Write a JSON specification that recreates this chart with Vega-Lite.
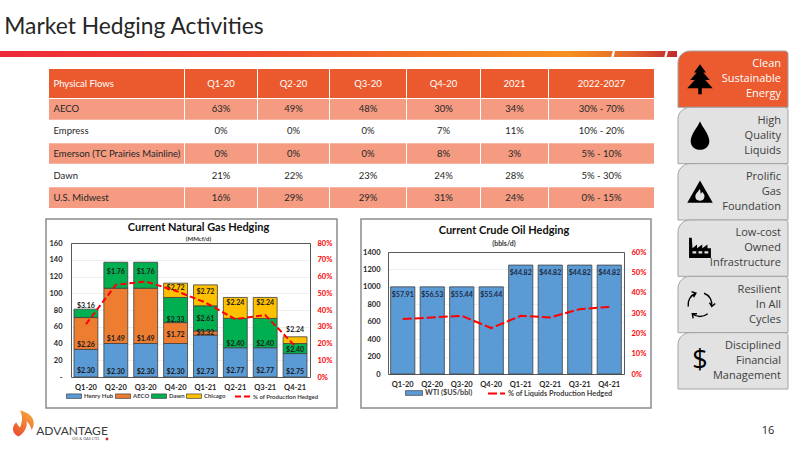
{
  "$schema": "https://vega.github.io/schema/vega-lite/v6.json",
  "padding": 0,
  "spacing": 0,
  "config": {
    "view": {"stroke": null},
    "font": "Lato",
    "axis": {"labelFont": "Lato", "labelFontWeight": "bold", "tickSize": 0, "title": null, "gridColor": "#EBEBEB", "gridWidth": 0.8},
    "legend": {"labelFont": "Lato", "labelFontWeight": "bold", "labelColor": "#404040", "title": null}
  },
  "datasets": {
    "flows": [
      {"flow": "AECO", "period": "Q1-20", "share": "63%"},
      {"flow": "AECO", "period": "Q2-20", "share": "49%"},
      {"flow": "AECO", "period": "Q3-20", "share": "48%"},
      {"flow": "AECO", "period": "Q4-20", "share": "30%"},
      {"flow": "AECO", "period": "2021", "share": "34%"},
      {"flow": "AECO", "period": "2022-2027", "share": "30% - 70%"},
      {"flow": "Empress", "period": "Q1-20", "share": "0%"},
      {"flow": "Empress", "period": "Q2-20", "share": "0%"},
      {"flow": "Empress", "period": "Q3-20", "share": "0%"},
      {"flow": "Empress", "period": "Q4-20", "share": "7%"},
      {"flow": "Empress", "period": "2021", "share": "11%"},
      {"flow": "Empress", "period": "2022-2027", "share": "10% - 20%"},
      {"flow": "Emerson (TC Prairies Mainline)", "period": "Q1-20", "share": "0%"},
      {"flow": "Emerson (TC Prairies Mainline)", "period": "Q2-20", "share": "0%"},
      {"flow": "Emerson (TC Prairies Mainline)", "period": "Q3-20", "share": "0%"},
      {"flow": "Emerson (TC Prairies Mainline)", "period": "Q4-20", "share": "8%"},
      {"flow": "Emerson (TC Prairies Mainline)", "period": "2021", "share": "3%"},
      {"flow": "Emerson (TC Prairies Mainline)", "period": "2022-2027", "share": "5% - 10%"},
      {"flow": "Dawn", "period": "Q1-20", "share": "21%"},
      {"flow": "Dawn", "period": "Q2-20", "share": "22%"},
      {"flow": "Dawn", "period": "Q3-20", "share": "23%"},
      {"flow": "Dawn", "period": "Q4-20", "share": "24%"},
      {"flow": "Dawn", "period": "2021", "share": "28%"},
      {"flow": "Dawn", "period": "2022-2027", "share": "5% - 30%"},
      {"flow": "U.S. Midwest", "period": "Q1-20", "share": "16%"},
      {"flow": "U.S. Midwest", "period": "Q2-20", "share": "29%"},
      {"flow": "U.S. Midwest", "period": "Q3-20", "share": "29%"},
      {"flow": "U.S. Midwest", "period": "Q4-20", "share": "31%"},
      {"flow": "U.S. Midwest", "period": "2021", "share": "24%"},
      {"flow": "U.S. Midwest", "period": "2022-2027", "share": "0% - 15%"}
    ],
    "gas": [
      {"quarter": "Q1-20", "hub": "Henry Hub", "rank": 1, "volume": 33, "price": "$2.30", "label_at": 7},
      {"quarter": "Q1-20", "hub": "AECO", "rank": 2, "volume": 38, "price": "$2.26", "label_at": 38},
      {"quarter": "Q1-20", "hub": "Dawn", "rank": 3, "volume": 10, "price": "$3.16", "label_at": 85},
      {"quarter": "Q2-20", "hub": "Henry Hub", "rank": 1, "volume": 40, "price": "$2.30", "label_at": 6},
      {"quarter": "Q2-20", "hub": "AECO", "rank": 2, "volume": 66, "price": "$1.49", "label_at": 45},
      {"quarter": "Q2-20", "hub": "Dawn", "rank": 3, "volume": 31, "price": "$1.76", "label_at": 125},
      {"quarter": "Q3-20", "hub": "Henry Hub", "rank": 1, "volume": 40, "price": "$2.30", "label_at": 6},
      {"quarter": "Q3-20", "hub": "AECO", "rank": 2, "volume": 66, "price": "$1.49", "label_at": 45},
      {"quarter": "Q3-20", "hub": "Dawn", "rank": 3, "volume": 31, "price": "$1.76", "label_at": 125},
      {"quarter": "Q4-20", "hub": "Henry Hub", "rank": 1, "volume": 40, "price": "$2.30", "label_at": 6},
      {"quarter": "Q4-20", "hub": "AECO", "rank": 2, "volume": 25, "price": "$1.72", "label_at": 50},
      {"quarter": "Q4-20", "hub": "Dawn", "rank": 3, "volume": 30, "price": "$2.33", "label_at": 68},
      {"quarter": "Q4-20", "hub": "Chicago", "rank": 4, "volume": 17, "price": "$2.72", "label_at": 106},
      {"quarter": "Q1-21", "hub": "Henry Hub", "rank": 1, "volume": 50, "price": "$2.73", "label_at": 6},
      {"quarter": "Q1-21", "hub": "AECO", "rank": 2, "volume": 5, "price": "$3.32", "label_at": 52},
      {"quarter": "Q1-21", "hub": "Dawn", "rank": 3, "volume": 30, "price": "$2.61", "label_at": 69},
      {"quarter": "Q1-21", "hub": "Chicago", "rank": 4, "volume": 25, "price": "$2.72", "label_at": 101},
      {"quarter": "Q2-21", "hub": "Henry Hub", "rank": 1, "volume": 35, "price": "$2.77", "label_at": 7},
      {"quarter": "Q2-21", "hub": "Dawn", "rank": 3, "volume": 35, "price": "$2.40", "label_at": 40},
      {"quarter": "Q2-21", "hub": "Chicago", "rank": 4, "volume": 25, "price": "$2.24", "label_at": 88},
      {"quarter": "Q3-21", "hub": "Henry Hub", "rank": 1, "volume": 35, "price": "$2.77", "label_at": 7},
      {"quarter": "Q3-21", "hub": "Dawn", "rank": 3, "volume": 35, "price": "$2.40", "label_at": 40},
      {"quarter": "Q3-21", "hub": "Chicago", "rank": 4, "volume": 25, "price": "$2.24", "label_at": 88},
      {"quarter": "Q4-21", "hub": "Henry Hub", "rank": 1, "volume": 28, "price": "$2.75", "label_at": 6},
      {"quarter": "Q4-21", "hub": "Dawn", "rank": 3, "volume": 12, "price": "$2.40", "label_at": 32},
      {"quarter": "Q4-21", "hub": "Chicago", "rank": 4, "volume": 8, "price": "$2.24", "label_at": 56}
    ],
    "gas_hedged": [
      {"quarter": "Q1-20", "pct": 31.5},
      {"quarter": "Q2-20", "pct": 55},
      {"quarter": "Q3-20", "pct": 57},
      {"quarter": "Q4-20", "pct": 51.5},
      {"quarter": "Q1-21", "pct": 44.5},
      {"quarter": "Q2-21", "pct": 34.5},
      {"quarter": "Q3-21", "pct": 37},
      {"quarter": "Q4-21", "pct": 18.5}
    ],
    "oil": [
      {"quarter": "Q1-20", "volume": 1000, "price": "$57.91", "hub": "WTI ($US/bbl)"},
      {"quarter": "Q2-20", "volume": 1000, "price": "$56.53", "hub": "WTI ($US/bbl)"},
      {"quarter": "Q3-20", "volume": 1000, "price": "$55.44", "hub": "WTI ($US/bbl)"},
      {"quarter": "Q4-20", "volume": 1000, "price": "$55.44", "hub": "WTI ($US/bbl)"},
      {"quarter": "Q1-21", "volume": 1250, "price": "$44.82", "hub": "WTI ($US/bbl)"},
      {"quarter": "Q2-21", "volume": 1250, "price": "$44.82", "hub": "WTI ($US/bbl)"},
      {"quarter": "Q3-21", "volume": 1250, "price": "$44.82", "hub": "WTI ($US/bbl)"},
      {"quarter": "Q4-21", "volume": 1250, "price": "$44.82", "hub": "WTI ($US/bbl)"}
    ],
    "oil_hedged": [
      {"quarter": "Q1-20", "pct": 27},
      {"quarter": "Q2-20", "pct": 27.8},
      {"quarter": "Q3-20", "pct": 28.6},
      {"quarter": "Q4-20", "pct": 22.6},
      {"quarter": "Q1-21", "pct": 28.6},
      {"quarter": "Q2-21", "pct": 27.8},
      {"quarter": "Q3-21", "pct": 31.9},
      {"quarter": "Q4-21", "pct": 33}
    ],
    "tabs": [
      {"tab": "Clean\nSustainable\nEnergy"},
      {"tab": "High\nQuality\nLiquids"},
      {"tab": "Prolific\nGas\nFoundation"},
      {"tab": "Low-cost\nOwned\nInfrastructure"},
      {"tab": "Resilient\nIn All\nCycles"},
      {"tab": "Disciplined\nFinancial\nManagement"}
    ]
  },
  "vconcat": [
    {
      "width": 268,
      "height": 50,
      "data": {"values": [{"heading": "Market Hedging Activities"}]},
      "mark": {"type": "text", "font": "Lato", "fontSize": 22.8, "color": "#262626", "yOffset": 2},
      "encoding": {"text": {"field": "heading"}}
    },
    {
      "spacing": 0,
      "hconcat": [
        {
          "spacing": 11,
          "vconcat": [
            {
              "width": 677,
              "height": 6,
              "layer": [
                {
                  "data": {"values": [{"band": "rule"}]},
                  "mark": {
                    "type": "rect",
                    "color": {
                      "gradient": "linear",
                      "stops": [
                        {"offset": 0, "color": "#ED2939"},
                        {"offset": 0.4, "color": "#F04E2C"},
                        {"offset": 0.84, "color": "#F6901F"},
                        {"offset": 0.93, "color": "#E4672B"},
                        {"offset": 1, "color": "#C1272D"}
                      ]
                    }
                  }
                },
                {
                  "data": {"values": [{"gap": 613}, {"gap": 666}]},
                  "mark": {"type": "point", "filled": true, "color": "#FFFFFF", "opacity": 1},
                  "encoding": {
                    "x": {"field": "gap", "type": "quantitative", "axis": null, "scale": {"domain": [0, 677]}},
                    "shape": {"value": "M-0.5,1 L0.1,1 L0.6,-1 L0,-1 Z"},
                    "size": {"value": 64}
                  }
                }
              ]
            },
            {
              "spacing": 0,
              "hconcat": [
                {"width": 45, "height": 1, "data": {"values": []}, "mark": "rect"},
                {
                  "spacing": 10,
                  "vconcat": [
                    {
                      "spacing": 1,
                      "hconcat": [
                        {"width": 2, "height": 1, "data": {"values": []}, "mark": "rect"},
                        {
                          "spacing": 1,
                          "vconcat": [
                            {
                              "spacing": 1,
                              "hconcat": [
                                {"width": 135, "height": 29, "view": {"fill": "#EB5A2F"}, "data": {"values": [{"label": "Physical Flows"}]}, "mark": {"type": "text", "font": "Lato", "fontSize": 9.5, "color": "#FFFFFF", "align": "left", "dx": -63}, "encoding": {"text": {"field": "label"}}},
                                {"width": 72, "height": 29, "view": {"fill": "#EB5A2F"}, "data": {"values": [{"label": "Q1-20"}]}, "mark": {"type": "text", "font": "Lato", "fontSize": 9.5, "color": "#FFFFFF"}, "encoding": {"text": {"field": "label"}}},
                                {"width": 71, "height": 29, "view": {"fill": "#EB5A2F"}, "data": {"values": [{"label": "Q2-20"}]}, "mark": {"type": "text", "font": "Lato", "fontSize": 9.5, "color": "#FFFFFF"}, "encoding": {"text": {"field": "label"}}},
                                {"width": 76, "height": 29, "view": {"fill": "#EB5A2F"}, "data": {"values": [{"label": "Q3-20"}]}, "mark": {"type": "text", "font": "Lato", "fontSize": 9.5, "color": "#FFFFFF"}, "encoding": {"text": {"field": "label"}}},
                                {"width": 73, "height": 29, "view": {"fill": "#EB5A2F"}, "data": {"values": [{"label": "Q4-20"}]}, "mark": {"type": "text", "font": "Lato", "fontSize": 9.5, "color": "#FFFFFF"}, "encoding": {"text": {"field": "label"}}},
                                {"width": 67, "height": 29, "view": {"fill": "#EB5A2F"}, "data": {"values": [{"label": "2021"}]}, "mark": {"type": "text", "font": "Lato", "fontSize": 9.5, "color": "#FFFFFF"}, "encoding": {"text": {"field": "label"}}},
                                {"width": 105, "height": 29, "view": {"fill": "#EB5A2F"}, "data": {"values": [{"label": "2022-2027"}]}, "mark": {"type": "text", "font": "Lato", "fontSize": 9.5, "color": "#FFFFFF"}, "encoding": {"text": {"field": "label"}}}
                              ]
                            },
                            {
                              "spacing": 1,
                              "data": {"name": "flows"},
                              "hconcat": [
                                {
                                  "width": 135, "height": 109,
                                  "transform": [{"filter": "datum.period == 'Q1-20'"}],
                                  "encoding": {"y": {"field": "flow", "type": "nominal", "axis": null, "sort": null, "scale": {"paddingInner": 0.06, "paddingOuter": 0}}},
                                  "layer": [
                                    {"mark": "rect", "encoding": {"color": {"condition": {"test": "datum.flow == 'AECO' || datum.flow == 'U.S. Midwest' || indexof(datum.flow, 'Emerson') == 0", "value": "#F49B81"}, "value": "#FFFFFF"}}},
                                    {"mark": {"type": "text", "font": "Lato", "fontSize": 9.5, "color": "#262626", "align": "left", "dx": -63}, "encoding": {"text": {"field": "flow"}}}
                                  ]
                                },
                                {
                                  "width": 72, "height": 109,
                                  "transform": [{"filter": "datum.period == 'Q1-20'"}],
                                  "encoding": {"y": {"field": "flow", "type": "nominal", "axis": null, "sort": null, "scale": {"paddingInner": 0.06, "paddingOuter": 0}}},
                                  "layer": [
                                    {"mark": "rect", "encoding": {"color": {"condition": {"test": "datum.flow == 'AECO' || datum.flow == 'U.S. Midwest' || indexof(datum.flow, 'Emerson') == 0", "value": "#F49B81"}, "value": "#FFFFFF"}}},
                                    {"mark": {"type": "text", "font": "Lato", "fontSize": 9.5, "color": "#262626"}, "encoding": {"text": {"field": "share"}}}
                                  ]
                                },
                                {
                                  "width": 71, "height": 109,
                                  "transform": [{"filter": "datum.period == 'Q2-20'"}],
                                  "encoding": {"y": {"field": "flow", "type": "nominal", "axis": null, "sort": null, "scale": {"paddingInner": 0.06, "paddingOuter": 0}}},
                                  "layer": [
                                    {"mark": "rect", "encoding": {"color": {"condition": {"test": "datum.flow == 'AECO' || datum.flow == 'U.S. Midwest' || indexof(datum.flow, 'Emerson') == 0", "value": "#F49B81"}, "value": "#FFFFFF"}}},
                                    {"mark": {"type": "text", "font": "Lato", "fontSize": 9.5, "color": "#262626"}, "encoding": {"text": {"field": "share"}}}
                                  ]
                                },
                                {
                                  "width": 76, "height": 109,
                                  "transform": [{"filter": "datum.period == 'Q3-20'"}],
                                  "encoding": {"y": {"field": "flow", "type": "nominal", "axis": null, "sort": null, "scale": {"paddingInner": 0.06, "paddingOuter": 0}}},
                                  "layer": [
                                    {"mark": "rect", "encoding": {"color": {"condition": {"test": "datum.flow == 'AECO' || datum.flow == 'U.S. Midwest' || indexof(datum.flow, 'Emerson') == 0", "value": "#F49B81"}, "value": "#FFFFFF"}}},
                                    {"mark": {"type": "text", "font": "Lato", "fontSize": 9.5, "color": "#262626"}, "encoding": {"text": {"field": "share"}}}
                                  ]
                                },
                                {
                                  "width": 73, "height": 109,
                                  "transform": [{"filter": "datum.period == 'Q4-20'"}],
                                  "encoding": {"y": {"field": "flow", "type": "nominal", "axis": null, "sort": null, "scale": {"paddingInner": 0.06, "paddingOuter": 0}}},
                                  "layer": [
                                    {"mark": "rect", "encoding": {"color": {"condition": {"test": "datum.flow == 'AECO' || datum.flow == 'U.S. Midwest' || indexof(datum.flow, 'Emerson') == 0", "value": "#F49B81"}, "value": "#FFFFFF"}}},
                                    {"mark": {"type": "text", "font": "Lato", "fontSize": 9.5, "color": "#262626"}, "encoding": {"text": {"field": "share"}}}
                                  ]
                                },
                                {
                                  "width": 67, "height": 109,
                                  "transform": [{"filter": "datum.period == '2021'"}],
                                  "encoding": {"y": {"field": "flow", "type": "nominal", "axis": null, "sort": null, "scale": {"paddingInner": 0.06, "paddingOuter": 0}}},
                                  "layer": [
                                    {"mark": "rect", "encoding": {"color": {"condition": {"test": "datum.flow == 'AECO' || datum.flow == 'U.S. Midwest' || indexof(datum.flow, 'Emerson') == 0", "value": "#F49B81"}, "value": "#FFFFFF"}}},
                                    {"mark": {"type": "text", "font": "Lato", "fontSize": 9.5, "color": "#262626"}, "encoding": {"text": {"field": "share"}}}
                                  ]
                                },
                                {
                                  "width": 105, "height": 109,
                                  "transform": [{"filter": "datum.period == '2022-2027'"}],
                                  "encoding": {"y": {"field": "flow", "type": "nominal", "axis": null, "sort": null, "scale": {"paddingInner": 0.06, "paddingOuter": 0}}},
                                  "layer": [
                                    {"mark": "rect", "encoding": {"color": {"condition": {"test": "datum.flow == 'AECO' || datum.flow == 'U.S. Midwest' || indexof(datum.flow, 'Emerson') == 0", "value": "#F49B81"}, "value": "#FFFFFF"}}},
                                    {"mark": {"type": "text", "font": "Lato", "fontSize": 9.5, "color": "#262626"}, "encoding": {"text": {"field": "share"}}}
                                  ]
                                }
                              ]
                            }
                          ]
                        }
                      ]
                    },
                    {
                      "spacing": 22,
                      "resolve": {"scale": {"color": "independent", "strokeDash": "independent"}},
                      "hconcat": [
                        {
                          "width": 291,
                          "height": 189,
                          "view": {"stroke": "#8C8C8C", "strokeWidth": 1.5},
                          "title": {"text": "Current Natural Gas Hedging", "subtitle": "(MMcf/d)", "font": "Lato", "fontWeight": "bold", "fontSize": 11, "color": "#111111", "subtitleFont": "Lato", "subtitleFontWeight": "bold", "subtitleFontSize": 6, "subtitleColor": "#333333", "subtitlePadding": 3, "anchor": "middle", "offset": -23, "dx": 7},
                          "resolve": {"scale": {"y": "independent"}, "axis": {"x": "independent", "y": "independent"}},
                          "layer": [
                            {
                              "data": {"name": "gas"},
                              "mark": {"type": "bar", "stroke": "#404040", "strokeWidth": 0.8},
                              "encoding": {
                                "x": {"field": "quarter", "type": "nominal", "sort": null, "scale": {"type": "band", "range": [25, 264], "paddingInner": 0.2, "paddingOuter": 0.1}, "axis": {"orient": "bottom", "offset": -31, "labelAngle": 0, "labelFontSize": 7.5, "labelColor": "#262626", "labelPadding": 6, "domainColor": "#595959", "domainWidth": 1}},
                                "y": {"field": "volume", "type": "quantitative", "stack": "zero", "scale": {"domain": [0, 160], "range": [158, 24], "nice": false}, "axis": {"orient": "left", "offset": -25, "values": [0, 20, 40, 60, 80, 100, 120, 140, 160], "labelExpr": "datum.value === 0 ? '-' : datum.label", "labelFontSize": 7.5, "labelColor": "#262626", "labelPadding": 9, "grid": true, "domainColor": "#595959", "domainWidth": 1}},
                                "color": {"field": "hub", "type": "nominal", "scale": {"domain": ["Henry Hub", "AECO", "Dawn", "Chicago"], "range": ["#5B9BD5", "#ED7D31", "#00B050", "#FFC000"]}, "legend": {"orient": "none", "legendX": 20, "legendY": 169, "direction": "horizontal", "columns": 4, "columnPadding": 0, "labelFontSize": 6, "labelOffset": 2, "symbolSize": 225, "symbolStrokeColor": "#404040", "symbolStrokeWidth": 0.7, "symbolType": "M-1,-0.3 L1,-0.3 L1,0.3 L-1,0.3 Z"}},
                                "order": {"field": "rank", "type": "quantitative"}
                              }
                            },
                            {
                              "data": {"name": "gas"},
                              "mark": {"type": "text", "font": "Lato", "fontWeight": "bold", "fontSize": 7, "color": "#1A1A1A"},
                              "encoding": {
                                "x": {"field": "quarter", "type": "nominal", "sort": null, "axis": null, "scale": {"type": "band", "range": [25, 264], "paddingInner": 0.2, "paddingOuter": 0.1}},
                                "y": {"field": "label_at", "type": "quantitative", "axis": null, "scale": {"domain": [0, 160], "range": [158, 24], "nice": false}},
                                "text": {"field": "price"}
                              }
                            },
                            {
                              "data": {"name": "gas_hedged"},
                              "mark": {"type": "line", "color": "#FF0000", "strokeWidth": 2},
                              "encoding": {
                                "x": {"field": "quarter", "type": "nominal", "sort": null, "scale": {"type": "band", "range": [25, 264], "paddingInner": 0.2, "paddingOuter": 0.1}, "axis": {"orient": "top", "offset": -24, "labels": false, "domainColor": "#595959", "domainWidth": 1}},
                                "y": {"field": "pct", "type": "quantitative", "scale": {"domain": [0, 80], "range": [158, 24], "nice": false}, "axis": {"orient": "right", "offset": -27, "values": [0, 10, 20, 30, 40, 50, 60, 70, 80], "labelExpr": "datum.value + '%'", "labelFontSize": 7.5, "labelColor": "#FF0000", "labelPadding": 7, "domainColor": "#595959", "domainWidth": 1}},
                                "strokeDash": {"datum": "% of Production Hedged", "scale": {"domain": ["% of Production Hedged"], "range": [[6, 3]]}, "legend": {"orient": "none", "legendX": 188, "legendY": 169, "labelFontSize": 6, "labelOffset": 2, "symbolSize": 225, "symbolType": "stroke", "symbolStrokeColor": "#FF0000", "symbolStrokeWidth": 2}}
                              }
                            }
                          ]
                        },
                        {
                          "width": 290,
                          "height": 189,
                          "view": {"stroke": "#8C8C8C", "strokeWidth": 1.5},
                          "title": {"text": "Current Crude Oil Hedging", "subtitle": "(bbls/d)", "font": "Lato", "fontWeight": "bold", "fontSize": 11, "color": "#111111", "subtitleFont": "Lato", "subtitleFontWeight": "bold", "subtitleFontSize": 7, "subtitleColor": "#333333", "subtitlePadding": 4, "anchor": "middle", "offset": -28, "dx": -2},
                          "resolve": {"scale": {"y": "independent"}, "axis": {"x": "independent", "y": "independent"}},
                          "layer": [
                            {
                              "data": {"name": "oil"},
                              "mark": {"type": "bar", "stroke": "#404040", "strokeWidth": 0.8},
                              "encoding": {
                                "x": {"field": "quarter", "type": "nominal", "sort": null, "scale": {"type": "band", "range": [27, 263], "paddingInner": 0.18, "paddingOuter": 0.09}, "axis": {"orient": "bottom", "offset": -34, "labelAngle": 0, "labelFontSize": 7.5, "labelColor": "#262626", "labelPadding": 6, "domainColor": "#595959", "domainWidth": 1}},
                                "y": {"field": "volume", "type": "quantitative", "scale": {"domain": [0, 1400], "range": [155, 33], "nice": false}, "axis": {"orient": "left", "offset": -27, "values": [0, 200, 400, 600, 800, 1000, 1200, 1400], "format": "d", "labelFontSize": 7.5, "labelColor": "#262626", "labelPadding": 8, "grid": true, "domainColor": "#595959", "domainWidth": 1}},
                                "color": {"field": "hub", "type": "nominal", "scale": {"domain": ["WTI ($US/bbl)"], "range": ["#5B9BD5"]}, "legend": {"orient": "none", "legendX": 44, "legendY": 165, "labelFontSize": 7.3, "labelOffset": 2, "symbolSize": 289, "symbolStrokeColor": "#404040", "symbolStrokeWidth": 0.7, "symbolType": "M-1,-0.28 L1,-0.28 L1,0.28 L-1,0.28 Z"}}
                              }
                            },
                            {
                              "data": {"name": "oil"},
                              "mark": {"type": "text", "font": "Lato", "fontWeight": "bold", "fontSize": 7, "color": "#1F2A44", "dy": 8},
                              "encoding": {
                                "x": {"field": "quarter", "type": "nominal", "sort": null, "axis": null, "scale": {"type": "band", "range": [27, 263], "paddingInner": 0.18, "paddingOuter": 0.09}},
                                "y": {"field": "volume", "type": "quantitative", "axis": null, "scale": {"domain": [0, 1400], "range": [155, 33], "nice": false}},
                                "text": {"field": "price"}
                              }
                            },
                            {
                              "data": {"name": "oil_hedged"},
                              "mark": {"type": "line", "color": "#FF0000", "strokeWidth": 2},
                              "encoding": {
                                "x": {"field": "quarter", "type": "nominal", "sort": null, "scale": {"type": "band", "range": [27, 263], "paddingInner": 0.18, "paddingOuter": 0.09}, "axis": {"orient": "top", "offset": -33, "labels": false, "domainColor": "#595959", "domainWidth": 1}},
                                "y": {"field": "pct", "type": "quantitative", "scale": {"domain": [0, 60], "range": [155, 33], "nice": false}, "axis": {"orient": "right", "offset": -27, "values": [0, 10, 20, 30, 40, 50, 60], "labelExpr": "datum.value + '%'", "labelFontSize": 7.5, "labelColor": "#FF0000", "labelPadding": 7, "domainColor": "#595959", "domainWidth": 1}},
                                "strokeDash": {"datum": "% of Liquids Production Hedged", "scale": {"domain": ["% of Liquids Production Hedged"], "range": [[9, 3]]}, "legend": {"orient": "none", "legendX": 126, "legendY": 165, "labelFontSize": 7.3, "labelOffset": 2, "symbolSize": 289, "symbolType": "stroke", "symbolStrokeColor": "#FF0000", "symbolStrokeWidth": 2}}
                              }
                            }
                          ]
                        }
                      ]
                    }
                  ]
                }
              ]
            }
          ]
        },
        {
          "width": 110,
          "height": 338,
          "data": {"name": "tabs"},
          "encoding": {"y": {"field": "tab", "type": "nominal", "axis": null, "sort": null, "scale": {"paddingInner": 0, "paddingOuter": 0}}},
          "layer": [
            {
              "mark": {"type": "rect", "stroke": "#A3A3A3", "strokeWidth": 1, "cornerRadiusTopLeft": 12, "cornerRadiusTopRight": 3},
              "encoding": {"color": {"condition": {"test": "indexof(datum.tab, 'Clean') === 0", "value": "#EC5A2F"}, "value": "#E2E2E2"}}
            },
            {
              "mark": {"type": "text", "font": "Open Sans", "fontSize": 11, "align": "right", "dx": 48, "dy": -15, "lineBreak": "\n", "lineHeight": 15},
              "encoding": {
                "text": {"field": "tab"},
                "color": {"condition": {"test": "indexof(datum.tab, 'Clean') === 0", "value": "#FFFFFF"}, "value": "#404040"}
              }
            },
            {
              "transform": [{"filter": "!test(/^(Resilient|Disciplined)/, datum.tab)"}],
              "mark": {"type": "point", "filled": true, "color": "#000000", "opacity": 1, "size": 900, "xOffset": -33},
              "encoding": {
                "shape": {"field": "tab", "type": "nominal", "legend": null, "sort": null, "scale": {"range": [
                  "M0,-1 L0.4,-0.45 L0.22,-0.45 L0.65,0.05 L0.35,0.05 L0.85,0.6 L0.12,0.6 L0.12,1 L-0.12,1 L-0.12,0.6 L-0.85,0.6 L-0.35,0.05 L-0.65,0.05 L-0.22,-0.45 L-0.4,-0.45 Z",
                  "M0,-0.95 C0.15,-0.55 0.62,-0.1 0.62,0.38 C0.62,0.72 0.34,0.95 0,0.95 C-0.34,0.95 -0.62,0.72 -0.62,0.38 C-0.62,-0.1 -0.15,-0.55 0,-0.95 Z",
                  "M0,-0.75 L0.85,0.72 L-0.85,0.72 Z M0,-0.2 C-0.1,0 -0.35,0.1 -0.3,0.4 C-0.28,0.55 -0.1,0.6 0,0.6 C0.15,0.6 0.3,0.5 0.3,0.3 C0.3,0.15 0.2,0.1 0.15,0 L0.05,0.15 Z",
                  "M-0.73,0.65 L-0.73,-0.7 L-0.55,-0.7 L-0.5,0 L-0.2,-0.25 L-0.2,0 L0.15,-0.25 L0.15,0 L0.5,-0.25 L0.5,0 L0.73,0 L0.73,0.65 Z M-0.5,0.2 L-0.5,0.35 L-0.25,0.35 L-0.25,0.2 Z M-0.1,0.2 L-0.1,0.35 L0.15,0.35 L0.15,0.2 Z M0.3,0.2 L0.3,0.35 L0.55,0.35 L0.55,0.2 Z"
                ]}}
              }
            },
            {
              "transform": [{"filter": "indexof(datum.tab, 'Resilient') === 0"}],
              "mark": {"type": "point", "filled": false, "color": "#000000", "opacity": 1, "strokeWidth": 1.4, "xOffset": -33},
              "encoding": {
                "shape": {"value": "M0.34,-0.94 A1,1 0 0 1 0.98,0.17 M1.27,-0.08 L0.98,0.17 L0.79,-0.16 M0.64,0.77 A1,1 0 0 1 -0.64,0.77 M-0.57,1.15 L-0.64,0.77 L-0.25,0.77 M-0.98,0.17 A1,1 0 0 1 -0.34,-0.94 M-0.705,-1.075 L-0.34,-0.94 L-0.535,-0.605"},
                "size": {"value": 576}
              }
            },
            {
              "transform": [{"filter": "indexof(datum.tab, 'Disciplined') === 0"}],
              "mark": {"type": "text", "font": "Open Sans", "fontSize": 27, "color": "#000000", "dx": -33},
              "encoding": {"text": {"value": "$"}}
            }
          ]
        }
      ]
    },
    {
      "spacing": 633,
      "hconcat": [
        {
          "width": 120,
          "height": 43,
          "data": {"values": [{"brand": "ADVANTAGE", "sub": "OIL & GAS LTD.", "leaf": "maple"}]},
          "layer": [
            {
              "mark": {
                "type": "point", "filled": true, "opacity": 1, "size": 676, "xOffset": -36, "yOffset": -7,
                "fill": {"gradient": "linear", "x1": 0, "y1": 1, "x2": 0.6, "y2": 0, "stops": [{"offset": 0, "color": "#E8452C"}, {"offset": 1, "color": "#F6A13A"}]}
              },
              "encoding": {"shape": {"value": "M-0.3,-1 C0.6,-0.8 1,-0.2 0.6,0.5 C0.5,0.2 0.4,0 0.2,-0.2 C0.3,0.3 0,0.7 -0.4,1 C-0.9,0.8 -1,0.3 -0.6,-0.1 C-0.5,0.1 -0.4,0.2 -0.3,0.3 C-0.1,-0.2 -0.1,-0.6 -0.3,-1 Z"}}
            },
            {"mark": {"type": "text", "font": "Lato", "fontSize": 12, "color": "#3A3A3A", "dx": 12, "dy": 0}, "encoding": {"text": {"field": "brand"}}},
            {"mark": {"type": "text", "font": "Lato", "fontSize": 4, "color": "#555555", "dx": 26, "dy": 8.5}, "encoding": {"text": {"field": "sub"}}},
            {"mark": {"type": "point", "filled": true, "color": "#D7282F", "opacity": 1, "size": 8, "xOffset": 47, "yOffset": 8.5}}
          ]
        },
        {
          "width": 30,
          "height": 43,
          "data": {"values": [{"page": "16"}]},
          "mark": {"type": "text", "font": "Open Sans", "fontSize": 11, "color": "#262626", "dy": 0}, 
          "encoding": {"text": {"field": "page"}}
        }
      ]
    }
  ]
}
